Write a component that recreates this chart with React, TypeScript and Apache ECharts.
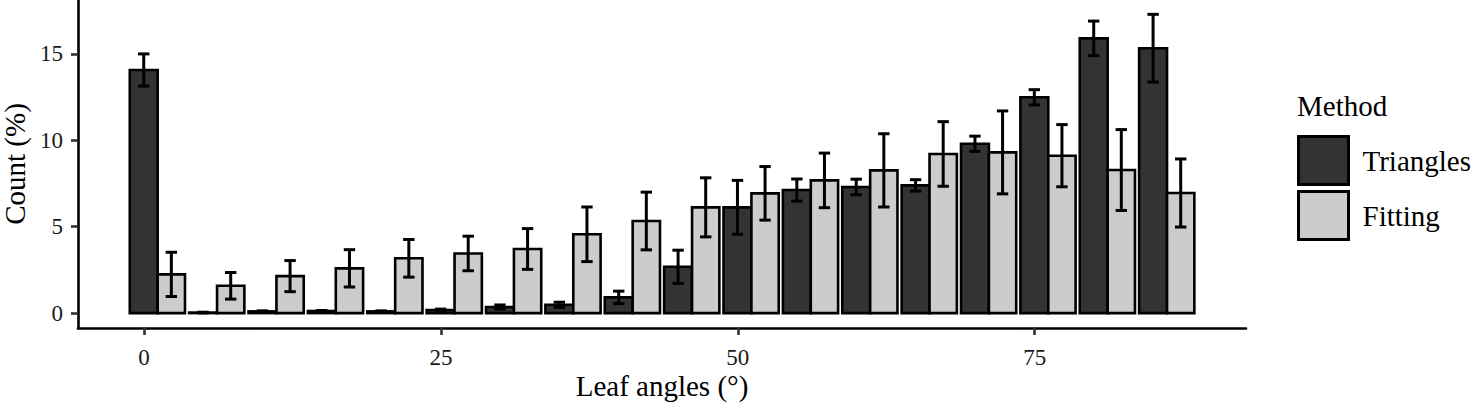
import React, { useEffect, useRef } from "react";
import * as echarts from "echarts";

const angles = [0, 5, 10, 15, 20, 25, 30, 35, 40, 45, 50, 55, 60, 65, 70, 75, 80, 85];
const triangles = [14.07, 0.03, 0.1, 0.12, 0.1, 0.18, 0.35, 0.48, 0.91, 2.68, 6.12, 7.12, 7.3, 7.39, 9.8, 12.49, 15.9, 15.33];
const trianglesErr = [0.93, 0.02, 0.03, 0.03, 0.03, 0.05, 0.12, 0.15, 0.36, 0.96, 1.56, 0.64, 0.45, 0.33, 0.44, 0.44, 1.0, 1.96];
const fitting = [2.24, 1.58, 2.14, 2.59, 3.17, 3.45, 3.71, 4.56, 5.33, 6.12, 6.93, 7.68, 8.26, 9.21, 9.3, 9.11, 8.28, 6.95];
const fittingErr = [1.28, 0.77, 0.9, 1.08, 1.09, 1.0, 1.18, 1.58, 1.67, 1.71, 1.55, 1.58, 2.12, 1.87, 2.4, 1.8, 2.34, 1.97];
const xTicks = [0, 25, 50, 75];
const yTicks = [0, 5, 10, 15];
const methods = ["Triangles", "Fitting"];

const FONT = "'Liberation Serif', 'Times New Roman', serif";
const DARK = "#333333";
const LIGHT = "#CCCCCC";

function barRenderer(x0: number, x1: number, fill: string) {
  return (params: any, api: any) => {
    const a = api.value(0);
    const v = api.value(1);
    const p0 = api.coord([a + x0, 0]);
    const p1 = api.coord([a + x1, v]);
    return {
      type: "rect",
      shape: { x: p0[0], y: p1[1], width: p1[0] - p0[0], height: p0[1] - p1[1] },
      style: { fill, stroke: "#000", lineWidth: 2.6 },
    };
  };
}

function errRenderer(cx: number, half: number) {
  return (params: any, api: any) => {
    const a = api.value(0);
    const v = api.value(1);
    const e = api.value(2);
    const top = api.coord([a + cx, v + e]);
    const bot = api.coord([a + cx, v - e]);
    const left = api.coord([a + cx - half, v])[0];
    const right = api.coord([a + cx + half, v])[0];
    const st = { stroke: "#000", lineWidth: 3 };
    return {
      type: "group",
      children: [
        { type: "line", shape: { x1: top[0], y1: top[1], x2: bot[0], y2: bot[1] }, style: st },
        { type: "line", shape: { x1: left, y1: top[1], x2: right, y2: top[1] }, style: st },
        { type: "line", shape: { x1: left, y1: bot[1], x2: right, y2: bot[1] }, style: st },
      ],
    };
  };
}

export default function App() {
  const ref = useRef<HTMLDivElement>(null);
  useEffect(() => {
    if (!ref.current) return;
    const chart = echarts.init(ref.current, undefined, { renderer: "svg" });
    const triData = angles.map((a, i) => [a, triangles[i], trianglesErr[i]]);
    const fitData = angles.map((a, i) => [a, fitting[i], fittingErr[i]]);
    chart.setOption({
      animation: false,
      backgroundColor: "#fff",
      textStyle: { fontFamily: FONT },
      grid: { left: 78, right: 230, top: 0, bottom: 74, containLabel: false, outerBoundsMode: "none" },
      title: {
        text: "Method",
        left: 1297,
        top: 91,
        padding: 0,
        textStyle: { fontFamily: FONT, fontSize: 29, fontWeight: "normal", color: "#000" },
      },
      legend: {
        orient: "vertical",
        left: 1297,
        top: 135,
        padding: 0,
        itemWidth: 50,
        itemHeight: 48,
        itemGap: 4,
        icon: "rect",
        textStyle: { fontFamily: FONT, fontSize: 29, color: "#000", padding: [0, 0, 0, 9] },
        data: [
          { name: methods[0], itemStyle: { color: DARK, borderColor: "#000", borderWidth: 3 } },
          { name: methods[1], itemStyle: { color: LIGHT, borderColor: "#000", borderWidth: 3 } },
        ],
      },
      xAxis: {
        type: "value",
        min: -5.56,
        max: 92.8,
        name: "Leaf angles (°)",
        nameLocation: "middle",
        nameGap: 44,
        nameMoveOverlap: false,
        nameTextStyle: { fontFamily: FONT, fontSize: 29, color: "#000", lineHeight: 28 },
        axisLine: { onZero: false, lineStyle: { color: "#000", width: 2.6 } },
        axisTick: { customValues: xTicks, length: 7, lineStyle: { color: "#333", width: 2.6 } },
        axisLabel: {
          customValues: xTicks,
          fontFamily: FONT,
          fontSize: 23,
          lineHeight: 23,
          color: "#1a1a1a",
          margin: 18,
        },
        splitLine: { show: false },
      },
      yAxis: {
        type: "value",
        min: -0.863,
        max: 18.12,
        name: "Count (%)",
        nameLocation: "middle",
        nameGap: 50,
        nameMoveOverlap: false,
        nameTextStyle: { fontFamily: FONT, fontSize: 29, color: "#000", lineHeight: 27 },
        axisLine: { onZero: false, lineStyle: { color: "#000", width: 2.6 } },
        axisTick: { customValues: yTicks, length: 7, lineStyle: { color: "#333", width: 2.6 } },
        axisLabel: { customValues: yTicks, fontFamily: FONT, fontSize: 23, color: "#1a1a1a", margin: 15 },
        splitLine: { show: false },
      },
      series: [
        {
          type: "custom",
          name: methods[0],
          itemStyle: { color: DARK },
          renderItem: barRenderer(-1.2, 1.15, DARK),
          data: triData,
          z: 2,
        },
        {
          type: "custom",
          name: methods[1],
          itemStyle: { color: LIGHT },
          renderItem: barRenderer(1.15, 3.45, LIGHT),
          data: fitData,
          z: 2,
        },
        {
          type: "custom",
          name: "triErr",
          renderItem: errRenderer(-0.025, 0.48),
          data: triData,
          z: 3,
        },
        {
          type: "custom",
          name: "fitErr",
          renderItem: errRenderer(2.3, 0.48),
          data: fitData,
          z: 3,
        },
      ],
    });
    return () => chart.dispose();
  }, []);
  return (
    <div
      ref={ref}
      style={{ position: "fixed", left: 0, top: 0, width: 1476, height: 402, background: "#fff" }}
    />
  );
}
